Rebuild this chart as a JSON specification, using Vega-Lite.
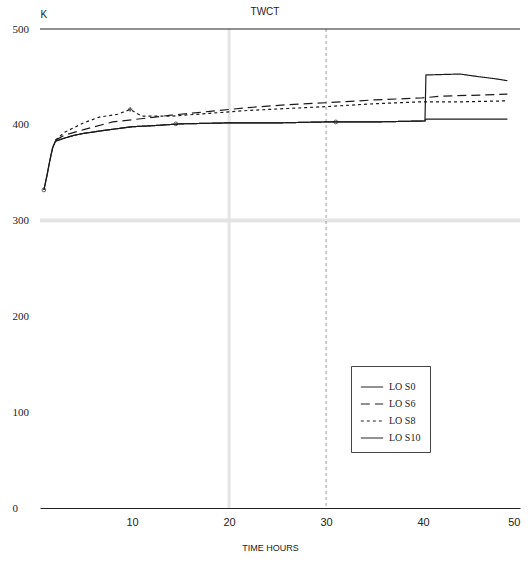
{
  "$schema": "https://vega.github.io/schema/vega-lite/v6.json",
  "width": 480,
  "height": 479,
  "autosize": {"type": "none"},
  "padding": {"left": 40, "top": 29, "right": 8, "bottom": 54},
  "background": "white",
  "title": {"text": "TWCT", "fontSize": 10, "font": "Liberation Sans", "fontWeight": "normal", "color": "#222", "offset": 0, "dy": 8, "dx": -15},
  "config": {"view": {"stroke": null}},
  "layer": [
    {
      "data": {"values": [{"v": 300}]},
      "mark": {"type": "rule", "color": "#e4e4e4", "strokeWidth": 4},
      "encoding": {"y": {"field": "v", "type": "quantitative"}}
    },
    {
      "data": {"values": [{"t": 20}]},
      "mark": {"type": "rule", "color": "#e4e4e4", "strokeWidth": 3},
      "encoding": {"x": {"field": "t", "type": "quantitative"}}
    },
    {
      "data": {"values": [{"t": 30}]},
      "mark": {"type": "rule", "color": "#999", "strokeWidth": 1, "strokeDash": [3, 3]},
      "encoding": {"x": {"field": "t", "type": "quantitative"}}
    },
    {
      "data": {"values": [{"v": 500}]},
      "mark": {"type": "rule", "color": "#222", "strokeWidth": 1},
      "encoding": {"y": {"field": "v", "type": "quantitative"}}
    },
    {
      "data": {"values": [
        {"series": "LO S0", "t": 0.9, "v": 332}, {"series": "LO S0", "t": 1.2, "v": 346}, {"series": "LO S0", "t": 1.5, "v": 362}, {"series": "LO S0", "t": 1.8, "v": 376}, {"series": "LO S0", "t": 2.1, "v": 383}, {"series": "LO S0", "t": 3, "v": 386}, {"series": "LO S0", "t": 4, "v": 389}, {"series": "LO S0", "t": 5, "v": 391}, {"series": "LO S0", "t": 7, "v": 394}, {"series": "LO S0", "t": 10, "v": 398}, {"series": "LO S0", "t": 12, "v": 399}, {"series": "LO S0", "t": 15, "v": 401}, {"series": "LO S0", "t": 20, "v": 402}, {"series": "LO S0", "t": 25, "v": 402}, {"series": "LO S0", "t": 30, "v": 403}, {"series": "LO S0", "t": 35, "v": 403}, {"series": "LO S0", "t": 40.2, "v": 404}, {"series": "LO S0", "t": 40.3, "v": 406}, {"series": "LO S0", "t": 48.7, "v": 406},
        {"series": "LO S6", "t": 2.1, "v": 384}, {"series": "LO S6", "t": 3, "v": 389}, {"series": "LO S6", "t": 5, "v": 395}, {"series": "LO S6", "t": 8, "v": 403}, {"series": "LO S6", "t": 11.5, "v": 407}, {"series": "LO S6", "t": 14, "v": 410}, {"series": "LO S6", "t": 18, "v": 414}, {"series": "LO S6", "t": 22, "v": 418}, {"series": "LO S6", "t": 26, "v": 421}, {"series": "LO S6", "t": 30, "v": 423}, {"series": "LO S6", "t": 35, "v": 426}, {"series": "LO S6", "t": 39.8, "v": 428}, {"series": "LO S6", "t": 42, "v": 430}, {"series": "LO S6", "t": 46, "v": 431}, {"series": "LO S6", "t": 48.7, "v": 432},
        {"series": "LO S8", "t": 2.1, "v": 384}, {"series": "LO S8", "t": 3, "v": 392}, {"series": "LO S8", "t": 5, "v": 402}, {"series": "LO S8", "t": 6.6, "v": 408}, {"series": "LO S8", "t": 8.5, "v": 411}, {"series": "LO S8", "t": 9.8, "v": 416}, {"series": "LO S8", "t": 11, "v": 409}, {"series": "LO S8", "t": 14, "v": 409}, {"series": "LO S8", "t": 18, "v": 412}, {"series": "LO S8", "t": 22, "v": 415}, {"series": "LO S8", "t": 26, "v": 417}, {"series": "LO S8", "t": 30, "v": 419}, {"series": "LO S8", "t": 35, "v": 422}, {"series": "LO S8", "t": 39.8, "v": 424}, {"series": "LO S8", "t": 44, "v": 424}, {"series": "LO S8", "t": 48.7, "v": 425},
        {"series": "LO S10", "t": 0.9, "v": 332}, {"series": "LO S10", "t": 1.2, "v": 346}, {"series": "LO S10", "t": 1.5, "v": 362}, {"series": "LO S10", "t": 1.8, "v": 376}, {"series": "LO S10", "t": 2.1, "v": 383}, {"series": "LO S10", "t": 3, "v": 386}, {"series": "LO S10", "t": 4, "v": 389}, {"series": "LO S10", "t": 5, "v": 391}, {"series": "LO S10", "t": 7, "v": 394}, {"series": "LO S10", "t": 10, "v": 398}, {"series": "LO S10", "t": 12, "v": 399}, {"series": "LO S10", "t": 15, "v": 401}, {"series": "LO S10", "t": 20, "v": 402}, {"series": "LO S10", "t": 25, "v": 402}, {"series": "LO S10", "t": 30, "v": 403}, {"series": "LO S10", "t": 35, "v": 403}, {"series": "LO S10", "t": 40.2, "v": 404}, {"series": "LO S10", "t": 40.3, "v": 452}, {"series": "LO S10", "t": 43.8, "v": 453}, {"series": "LO S10", "t": 45.9, "v": 450}, {"series": "LO S10", "t": 47.5, "v": 448}, {"series": "LO S10", "t": 48.7, "v": 446}
      ]},
      "mark": {"type": "line", "color": "#1a1a1a", "strokeWidth": 1.2},
      "encoding": {
        "x": {"field": "t", "type": "quantitative",
          "scale": {"domain": [0.5, 50], "nice": false, "zero": false},
          "axis": {"title": "TIME HOURS", "values": [10, 20, 30, 40, 50], "grid": false, "ticks": false,
            "domainColor": "#222", "domainWidth": 1, "labelFont": "Liberation Sans", "labelFontSize": 11, "labelColor": "#222", "labelPadding": 8,
            "titleFont": "Liberation Sans", "titleFontSize": 9, "titleFontWeight": "normal", "titleColor": "#222", "titleX": 230, "titleY": 39, "titleBaseline": "middle"}},
        "y": {"field": "v", "type": "quantitative",
          "scale": {"domain": [0, 500], "nice": false},
          "axis": {"title": "K", "values": [0, 100, 200, 300, 400, 500], "grid": false, "ticks": false, "domain": false,
            "labelFont": "Liberation Serif", "labelFontSize": 11, "labelColor": "#222", "labelAlign": "left", "labelPadding": 28,
            "titleFont": "Liberation Sans", "titleFontSize": 10, "titleFontWeight": "normal", "titleColor": "#222", "titleAngle": 0, "titleX": 0, "titleY": -15, "titleAlign": "left", "titleBaseline": "middle"}},
        "strokeDash": {"field": "series", "type": "nominal",
          "scale": {"domain": ["LO S0", "LO S6", "LO S8", "LO S10"], "range": [[1, 0], [9, 5], [3, 3], [1, 0]]},
          "legend": {"title": null, "orient": "none", "legendX": 311, "legendY": 337, "padding": 9, "strokeColor": "#444",
            "symbolType": "stroke", "symbolSize": 500, "symbolStrokeColor": "#222", "symbolStrokeWidth": 1.2,
            "labelFont": "Liberation Serif", "labelFontSize": 10, "labelColor": "#222", "rowPadding": -6, "labelOffset": 5}},
        "detail": {"field": "series"}
      }
    },
    {
      "data": {"values": [
        {"t": 0.9, "v": 332}, {"t": 14.5, "v": 401}, {"t": 31, "v": 403}
      ]},
      "mark": {"type": "point", "shape": "circle", "size": 14, "color": "#1a1a1a", "strokeWidth": 1},
      "encoding": {
        "x": {"field": "t", "type": "quantitative"},
        "y": {"field": "v", "type": "quantitative"}
      }
    },
    {
      "data": {"values": [{"t": 9.8, "v": 416}]},
      "mark": {"type": "point", "shape": "cross", "size": 18, "filled": true, "color": "#1a1a1a"},
      "encoding": {
        "x": {"field": "t", "type": "quantitative"},
        "y": {"field": "v", "type": "quantitative"}
      }
    }
  ]
}
